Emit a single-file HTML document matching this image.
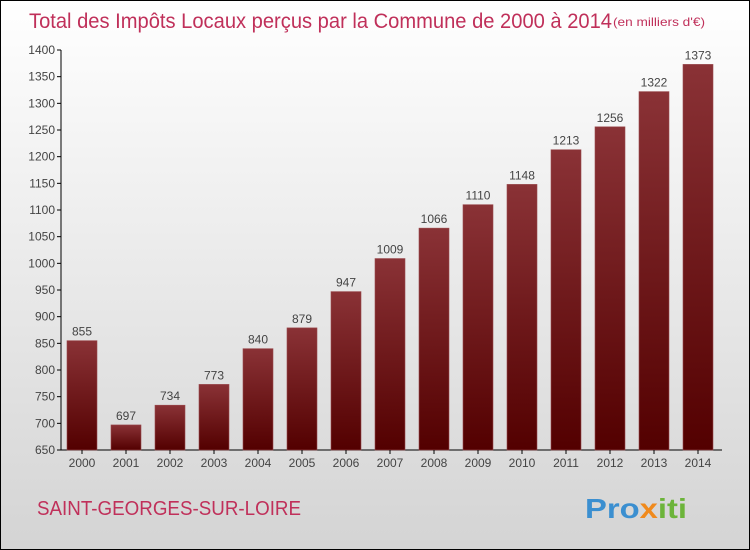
<!DOCTYPE html>
<html><head><meta charset="utf-8"><style>
body{margin:0}
#c{width:748px;height:548px;border:1px solid #000;background:linear-gradient(#ffffff,#f2f2f2 30%,#d4d4d4);position:relative;font-family:"Liberation Sans",sans-serif;overflow:hidden}
</style></head><body>
<div id="c">
<svg width="748" height="548" id="s">
<defs><linearGradient id="g" x1="0" y1="0" x2="0" y2="1"><stop offset="0" stop-color="#8a3236"/><stop offset="1" stop-color="#530000"/></linearGradient></defs>
<text x="28" y="27" font-size="21" fill="#c0305a" textLength="583" lengthAdjust="spacingAndGlyphs">Total des Impôts Locaux perçus par la Commune de 2000 à 2014</text>
<text x="612" y="25" font-size="12" fill="#c0305a" textLength="92" lengthAdjust="spacingAndGlyphs">(en milliers d'€)</text>
<text x="36" y="514" font-size="20" fill="#c0305a" textLength="264" lengthAdjust="spacingAndGlyphs">SAINT-GEORGES-SUR-LOIRE</text>
<text x="584" y="517" font-size="28" font-weight="bold" fill="#3b8fd0" textLength="102" lengthAdjust="spacingAndGlyphs">Pro<tspan fill="#f08a1c">x</tspan><tspan fill="#6cb43a">iti</tspan></text>
<g id="plot"></g>
</svg></div>
<script>
const years=["2000","2001","2002","2003","2004","2005","2006","2007","2008","2009","2010","2011","2012","2013","2014"];
const values=[855,697,734,773,840,879,947,1009,1066,1110,1148,1213,1256,1322,1373];
const ticks=[650,700,750,800,850,900,950,1000,1050,1100,1150,1200,1250,1300,1350,1400];
const NS="http://www.w3.org/2000/svg",p=document.getElementById('plot');
const y=v=>449-(v-650)*(400/750), x=i=>81+i*44;
function el(t,a,txt){const e=document.createElementNS(NS,t);for(const k in a)e.setAttribute(k,a[k]);if(txt!=null)e.textContent=txt;p.appendChild(e);return e;}
let ax=el('line',{x1:60,y1:49,x2:60,y2:449,stroke:'#000'});

let bx=el('line',{x1:60,y1:449,x2:721,y2:449,stroke:'#000'});

ticks.forEach(t=>{
 let l=el('line',{x1:56,x2:60,y1:y(t),y2:y(t),stroke:'#000'});
 
 let tx=el('text',{x:54,y:y(t)+4,'font-size':12,'text-anchor':'end',fill:'#444'},t);
 
});
years.forEach((yr,i)=>{
 let r=el('rect',{x:x(i)-15,y:y(values[i]),width:30,height:449-y(values[i]),fill:'url(#g)',stroke:'#9a4a4e','stroke-width':0.6});
 
 let v=el('text',{x:x(i),y:y(values[i])-5,'font-size':12,'text-anchor':'middle',fill:'#444'},values[i]);
 
 let t=el('line',{x1:x(i),x2:x(i),y1:449,y2:453,stroke:'#000'});
 
 let lb=el('text',{x:x(i),y:466,'font-size':12,'text-anchor':'middle',fill:'#444'},yr);
 
});
</script></body></html>
